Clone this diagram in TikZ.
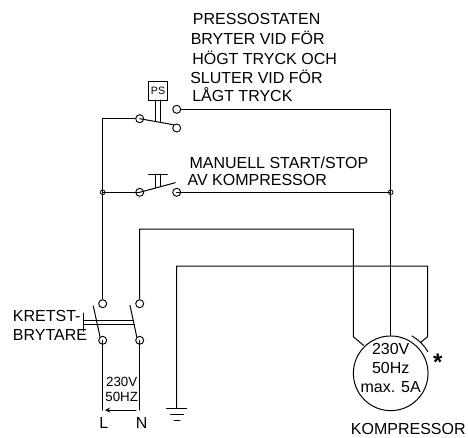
\documentclass[tikz,border=0pt]{standalone}
\usepackage{fontspec, tkz-euclide}
\setmainfont{Liberation Sans}
\tikzset{
    terminal/.style = {circle, draw, line width = 0.7pt, fill = white, inner sep = 0pt, minimum size = 6pt},
    junction/.style = {circle, draw, line width = 0.6pt, inner sep = 0pt, minimum size = 3.5pt},
    label12/.style = {font = \fontsize{12pt}{12pt}\selectfont, inner sep = 0pt},
    label10/.style = {font = \fontsize{10pt}{10pt}\selectfont, inner sep = 0pt},
    wire/.style = {line width = 0.75pt, black}
}

\begin{document}
\begin{tikzpicture}[x = 0.75pt, y = -0.75pt]
    \useasboundingbox (0,0) rectangle (468,437);
    \tkzDefPoints{102.7/118.7/Wa, 390.7/109.3/Wb, 139.7/229/Wc, 353.3/229/Wd, 353.3/336.7/We, 364/345.7/Wf}
    \tkzDefPoints{176.7/266/Wg, 427.7/266/Wh, 427.7/336.7/Wi, 420.7/342.3/Wj, 390.7/336/Wk}
    \tkzDefPoints{102.7/410/Ln, 139.7/410/Nn, 136/410/Aa, 105/410/Ab}
    \tkzDefPoints{173.3/124.7/Ba, 175.3/182.7/Bb, 93.3/306/Bc, 100/336.7/Bd, 130/305.3/Be, 136.7/336.7/Bf}
    \tkzDefPoints{155.3/100/Ra, 155.3/121.5/Rb, 160.7/100/Rc, 160.7/122.5/Rd}
    \tkzDefPoints{148.7/174/Pa, 167.3/174/Pb, 155.7/174/Pc, 155.7/187.5/Pd, 160.7/174/Pe, 160.7/186/Pf}
    \tkzDefPoints{83.3/320/Ma, 133/320/Mb, 83.3/324/Mc, 134/324/Md, 83.3/313/Me, 83.3/331/Mf}
    \tkzDefPoints{176.7/408.3/Ga, 166.7/408.3/Gb, 186.7/408.3/Gc, 170.7/414.3/Gd, 183.3/414.3/Ge, 174/420.3/Gf, 180/420.3/Gg}

    % terminals
    \node[terminal] (PSin) at (139.7,118.7) {};
    \node[terminal] (PSup) at (176.7,109.3) {};
    \node[terminal] (PSlo) at (176.7,128) {};
    \node[terminal] (MSin) at (139.7,192.3) {};
    \node[terminal] (MSout) at (176.7,192.3) {};
    \node[terminal] (Lup) at (102.7,303.7) {};
    \node[terminal] (Nup) at (139.7,303.7) {};
    \node[terminal] (Llo) at (102.7,340.3) {};
    \node[terminal] (Nlo) at (139.7,340.3) {};
    \node[junction] (JL) at (102.7,192.3) {};
    \node[junction] (JR) at (390.7,192.3) {};
    \node[draw, line width = 0.75pt, minimum size = 14pt, inner sep = 0pt, font = \fontsize{8pt}{8pt}\selectfont] (PS) at (158,90.7) {PS};
    \node[circle, draw, line width = 0.75pt, minimum size = 56pt, inner sep = 0pt] (Motor) at (390.7,373.3) {};

    % wires
    \draw[wire] (PSin) -- (Wa) -- (Lup);
    \draw[wire] (PSup) -- (Wb) -- (Wk);
    \tkzDrawSegment[wire](JL,MSin)
    \tkzDrawSegment[wire](MSout,JR)
    \draw[wire] (Nup) -- (Wc) -- (Wd) -- (We) -- (Wf);
    \draw[wire] (Ga) -- (Wg) -- (Wh) -- (Wi) -- (Wj);
    \tkzDrawSegment[wire](Llo,Ln)
    \tkzDrawSegment[wire](Nlo,Nn)
    \tkzDrawSegment[wire, ->, >=stealth](Aa,Ab)

    % switch blades
    \tkzDrawSegment[wire](PSin,Ba)
    \tkzDrawSegment[wire](MSin,Bb)
    \tkzDrawSegment[wire](Bc,Bd)
    \tkzDrawSegment[wire](Be,Bf)
    \tkzDrawSegment[wire](Ra,Rb)
    \tkzDrawSegment[wire](Rc,Rd)
    \tkzDrawSegment[wire](Pa,Pb)
    \tkzDrawSegment[wire](Pc,Pd)
    \tkzDrawSegment[wire](Pe,Pf)
    \tkzDrawSegment[wire](Ma,Mb)
    \tkzDrawSegment[wire](Mc,Md)
    \tkzDrawSegment[wire](Me,Mf)

    % ground
    \tkzDrawSegment[wire](Gb,Gc)
    \tkzDrawSegment[wire](Gd,Ge)
    \tkzDrawSegment[wire](Gf,Gg)

    % winding mark
    \draw[wire] (Motor.center) ++(-60.6:43) arc[start angle = -60.6, end angle = -30, radius = 43];

    \node[label12] (t1) at (192.7,19) [anchor = west] {PRESSOSTATEN};
    \node[label12] (t2) at (190.5,38) [anchor = west] {BRYTER VID FÖR};
    \node[label12] (t3) at (192,57.5) [anchor = west] {HÖGT TRYCK OCH};
    \node[label12] (t4) at (190,76.7) [anchor = west] {SLUTER VID FÖR};
    \node[label12] (t5) at (192,94.7) [anchor = west] {LÅGT TRYCK};
    \node[label12] (t6) at (189.3,162.3) [anchor = west] {MANUELL START/STOP};
    \node[label12] (t7) at (187.3,180.3) [anchor = west] {AV KOMPRESSOR};
    \node[label12] (t8) at (12.7,316) [anchor = west] {KRETST-};
    \node[label12] (t9) at (12.7,335) [anchor = west] {BRYTARE};
    \node[label10] (t10) at (121.7,381.7) {230V};
    \node[label10] (t11) at (121.7,397) {50HZ};
    \node[label12] (t12) at (103.7,423) {L};
    \node[label12] (t13) at (141.7,423) {N};
    \node[label12] (t14) at (390.7,349.3) {230V};
    \node[label12] (t15) at (390.7,368) {50Hz};
    \node[label12] (t16) at (390.7,386.7) {max. 5A};
    \node[label12] (t17) at (408.3,429.3) {KOMPRESSOR};
    \node[font = \fontsize{18pt}{18pt}\bfseries\selectfont, inner sep = 0pt] (t18) at (437.7,362) {*};
\end{tikzpicture}
\end{document}
